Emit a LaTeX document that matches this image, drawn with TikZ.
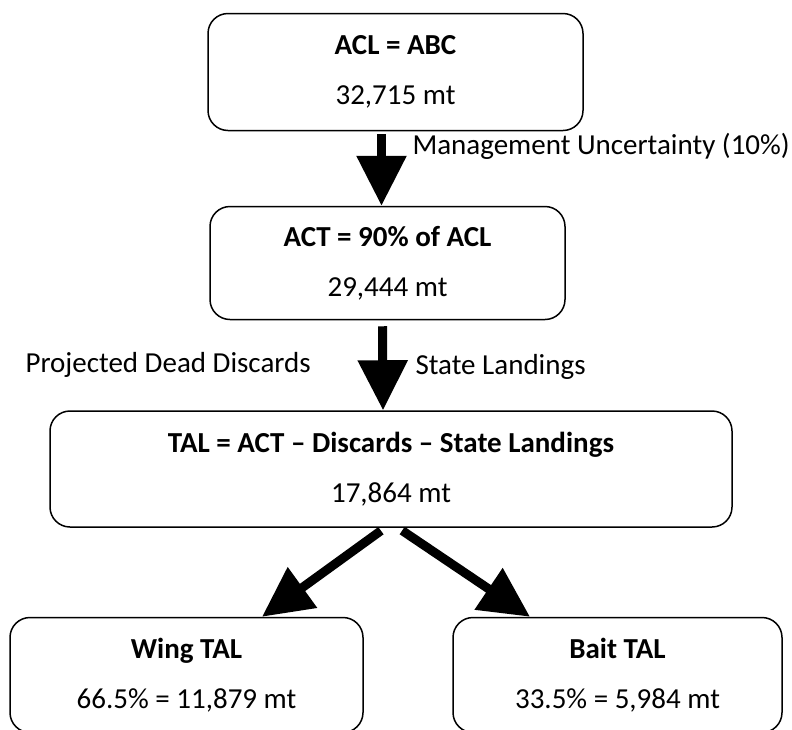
\documentclass[tikz,border=0pt]{standalone}
\usepackage{fontspec}
\setmainfont{Carlito}
\usetikzlibrary{arrows.meta}
\begin{document}
\begin{tikzpicture}[x=1pt,y=-1pt,
    font=\fontsize{29}{35}\selectfont,
    box/.style={draw, line width=1.5pt, rounded corners=20pt, align=center, inner sep=0pt, fill=white},
    flow/.style={line width=9pt, -{Triangle[width=48pt,length=50pt]}}]
    \useasboundingbox (0,0) rectangle (792,729);
    % boxes
    \node[box, minimum width=375pt, minimum height=117pt] (acl) at (395.5,72) {\textbf{ACL = ABC}\\[15pt]32,715 mt};
    \node[box, minimum width=355pt, minimum height=113pt] (act) at (387.5,263) {\textbf{ACT = 90\% of ACL}\\[15pt]29,444 mt};
    \node[box, minimum width=682pt, minimum height=116pt] (tal) at (391,469) {\textbf{TAL = ACT -- Discards -- State Landings}\\[15pt]17,864 mt};
    \node[box, minimum width=353pt, minimum height=115pt] (wing) at (186.5,675) {\textbf{Wing TAL}\\[15pt]66.5\% = 11,879 mt};
    \node[box, minimum width=329pt, minimum height=115pt] (bait) at (617.5,675) {\textbf{Bait TAL}\\[15pt]33.5\% = 5,984 mt};
    % labels
    \node[anchor=west] (mu) at (409,146) {Management Uncertainty (10\%)};
    \node[anchor=west] (dd) at (22,365) {Projected Dead Discards};
    \node[anchor=west] (sl) at (412,367) {State Landings};
    % arrows
    \draw[flow, shorten <=3pt] ([xshift=-14]acl.south) -- ([xshift=-6]act.north);
    \draw[flow, shorten <=6pt] ([xshift=-5]act.south) -- ([xshift=-8]tal.north);
    \foreach \a/\b/\dx in {-6/wing/75.5, 7/bait/-87.5} {
        \draw[flow, shorten <=5pt] ([xshift=\a]tal.south) -- ([xshift=\dx]\b.north);
    }
\end{tikzpicture}
\end{document}
